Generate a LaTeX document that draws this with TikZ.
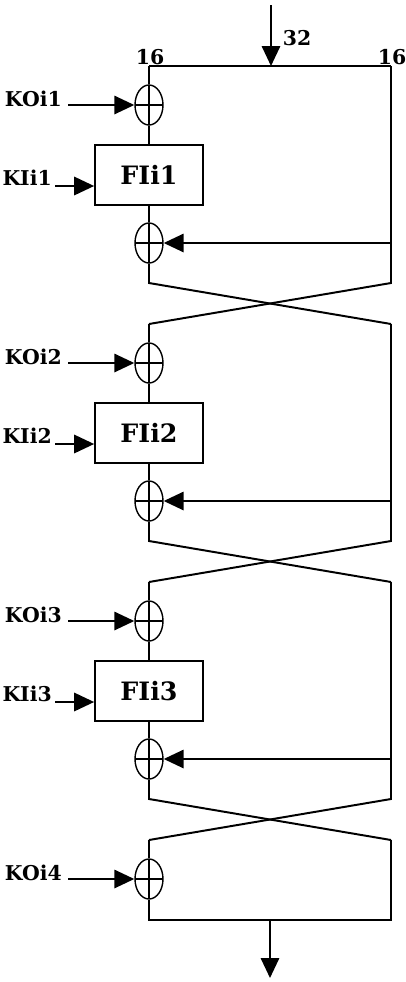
\documentclass[tikz,border=0pt]{standalone}
\usepackage{fontspec}
\setmainfont{DejaVu Serif}
\usetikzlibrary{arrows.meta, shapes.geometric, calc}

\tikzset{
    wire/.style={line width=1.4pt},
    arr/.style={wire, -{Triangle[length=0.5cm,width=0.46cm]}},
    xorop/.style={
        ellipse, draw, line width=1pt, inner sep=0pt,
        minimum width=0.7cm, minimum height=1cm,
        path picture={
            \draw[line width=1pt]
                (path picture bounding box.north) -- (path picture bounding box.south)
                (path picture bounding box.west) -- (path picture bounding box.east);
        }
    },
    fibox/.style={
        draw, line width=1.2pt, minimum width=2.7cm, minimum height=1.5cm,
        font=\fontsize{18}{20}\selectfont\bfseries
    },
    keylbl/.style={inner sep=0pt, font=\fontsize{14.5}{16}\selectfont\bfseries}
}

\begin{document}
\begin{tikzpicture}[x=0.025cm, y=-0.025cm]
    \useasboundingbox (0,0) rectangle (406,982);

    % 32-bit input, split in two halves
    \coordinate (in) at (271,5);
    \coordinate (tl) at (149,66);
    \coordinate (tr) at (391,66);
    \draw[wire] (tl) -- (tr);
    \draw[arr] (in) -- (in |- tl);
    \node[keylbl] (w32) at (297,38) {32};
    \node[keylbl, anchor=south] (wl) at ($(tl)+(1,-1)$) {16};
    \node[keylbl, anchor=south] (wr) at ($(tr)+(1,-1)$) {16};

    % three rounds
    \foreach \r [evaluate=\r as \y using 105+258*(\r-1)] in {1,2,3}{
        \node[xorop] (xo\r) at (149,\y) {};
        \node[fibox] (fi\r) at (149,\y+70) {FIi\r};
        \node[xorop] (xf\r) at (149,\y+138) {};
        \node[keylbl, anchor=base east] (ko\r) at (62,\y+1) {KOi\r};
        \node[keylbl, anchor=base east] (ki\r) at (52,\y+80) {KIi\r};
        \coordinate (kon\r) at (68,\y);
        \coordinate (kin\r) at (55,\y+81);
        \coordinate (lt\r) at (149,\y-39);
        \coordinate (rt\r) at (391,\y-39);
        \coordinate (lb\r) at (149,\y+178);
        \coordinate (rb\r) at (391,\y+178);
        \coordinate (ln\r) at (149,\y+219);
        \coordinate (rn\r) at (391,\y+219);
        \draw[arr] (kon\r) -- (xo\r.west);
        \draw[arr] (kin\r) -- (kin\r -| fi\r.west);
        \draw[arr] (xf\r -| rt\r) -- (xf\r.east);
        \draw[wire] (lt\r) -- (xo\r) -- (fi\r) -- (xf\r) -- (lb\r) -- (rn\r);
        \draw[wire] (rt\r) -- (rb\r) -- (ln\r);
    }

    % last key and output
    \node[xorop] (xo4) at (149,879) {};
    \node[keylbl, anchor=base east] (ko4) at (62,880) {KOi4};
    \coordinate (kon4) at (68,879);
    \coordinate (bl) at (149,920);
    \coordinate (br) at (391,920);
    \coordinate (out) at (270,978);
    \draw[arr] (kon4) -- (xo4.west);
    \draw[wire] (ln3) -- (xo4) -- (bl) -- (br) -- (rn3);
    \draw[arr] (bl -| out) -- (out);
\end{tikzpicture}
\end{document}
